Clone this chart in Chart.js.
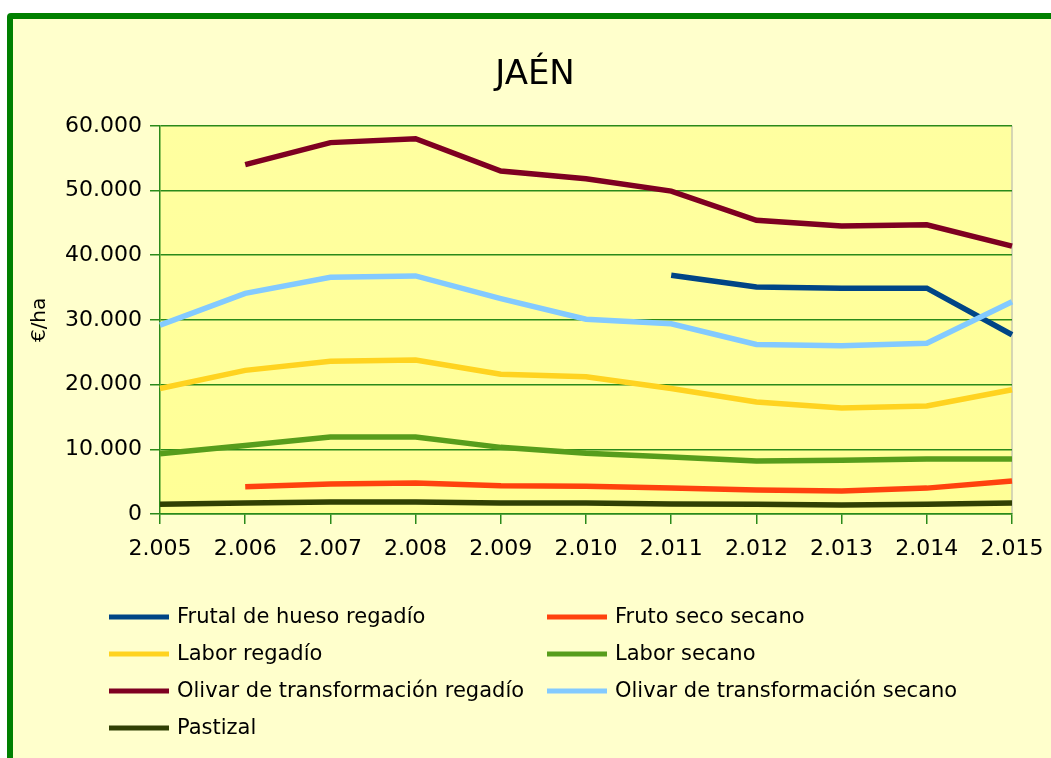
<!DOCTYPE html>
<html>
<head>
<meta charset="utf-8">
<script src="https://cdn.jsdelivr.net/npm/chart.js@4.4.0/dist/chart.umd.min.js"></script>
<style>
  html, body { margin: 0; padding: 0; background: #fff; overflow: hidden; }
  #frame { position: absolute; left: 7px; top: 13px; width: 1100px; height: 800px; border: 6px solid #008000; border-radius: 4px; background: #ffffcc; }
  #chart { position: absolute; left: 0; top: 0; }
</style>
</head>
<body>
<div id="frame"></div>
<canvas id="chart" width="1051" height="758"></canvas>
<script>
const years = ["2.005", "2.006", "2.007", "2.008", "2.009", "2.010", "2.011", "2.012", "2.013", "2.014", "2.015"];

const frutalHuesoRegadio = [null, null, null, null, null, null, 36900, 35100, 34900, 34900, 27700];
const frutoSecoSecano = [null, 4200, 4650, 4800, 4350, 4300, 4000, 3700, 3550, 4000, 5100];
const laborRegadio = [19400, 22200, 23600, 23800, 21600, 21200, 19400, 17300, 16400, 16700, 19200];
const laborSecano = [9300, 10600, 11900, 11900, 10300, 9400, 8800, 8200, 8300, 8500, 8500];
const olivarRegadio = [null, 54000, 57400, 58000, 53000, 51800, 49900, 45400, 44500, 44700, 41400];
const olivarSecano = [29200, 34100, 36600, 36800, 33300, 30100, 29400, 26200, 26000, 26400, 32800];
const pastizal = [1500, 1700, 1850, 1850, 1700, 1700, 1550, 1500, 1400, 1500, 1700];

const seriesNames = [
    "Frutal de hueso regadío",
    "Fruto seco secano",
    "Labor regadío",
    "Labor secano",
    "Olivar de transformación regadío",
    "Olivar de transformación secano",
    "Pastizal"
];
const seriesValues = [frutalHuesoRegadio, frutoSecoSecano, laborRegadio, laborSecano, olivarRegadio, olivarSecano, pastizal];
const seriesColors = ["#004586", "#ff420e", "#ffd320", "#579d1c", "#7e0021", "#83caff", "#314004"];

const green = "#2a8a1a";
const font = "'DejaVu Sans', Verdana, sans-serif";

const formatThousands = (v) => String(v).replace(/\B(?=(\d{3})+(?!\d))/g, ".");

// plot wall + grey right edge
const wallPlugin = {
    id: "wall",
    beforeDraw(chart) {
        const { ctx, chartArea: a } = chart;
        const g = ctx.createLinearGradient(a.left, a.top, a.left, a.bottom);
        g.addColorStop(0, "#ffffa0");
        g.addColorStop(1, "#ffff96");
        ctx.save();
        ctx.fillStyle = g;
        ctx.fillRect(a.left, a.top, a.right - a.left, a.bottom - a.top);
        ctx.strokeStyle = "#c8c8b0";
        ctx.lineWidth = 1.5;
        ctx.beginPath();
        ctx.moveTo(a.right, a.top);
        ctx.lineTo(a.right, a.bottom);
        ctx.stroke();
        ctx.restore();
    }
};

// two-column legend under the plot
const legendPlugin = {
    id: "gridLegend",
    afterDraw(chart) {
        const ctx = chart.ctx;
        const cols = [109, 547];
        ctx.save();
        ctx.font = "21px " + font;
        ctx.textBaseline = "middle";
        ctx.fillStyle = "#000";
        chart.data.datasets.forEach((ds, i) => {
            const x = cols[i % 2];
            const y = 617 + Math.floor(i / 2) * 37;
            ctx.strokeStyle = ds.borderColor;
            ctx.lineWidth = 5;
            ctx.beginPath();
            ctx.moveTo(x, y);
            ctx.lineTo(x + 60, y);
            ctx.stroke();
            ctx.fillText(ds.label, x + 68, y + 1);
        });
        ctx.restore();
    }
};

new Chart(document.getElementById("chart"), {
    type: "line",
    data: {
        labels: years,
        datasets: seriesNames.map((name, i) => ({
            label: name,
            data: seriesValues[i],
            borderColor: seriesColors[i],
            backgroundColor: seriesColors[i],
            borderWidth: 5.5,
            pointRadius: 0,
            tension: 0,
            fill: false,
            order: -i
        }))
    },
    options: {
        responsive: false,
        animation: false,
        layout: { padding: { left: 58, right: 39, top: 0, bottom: 184 } },
        plugins: {
            legend: { display: false },
            tooltip: { enabled: false },
            title: {
                display: true,
                text: "JAÉN",
                color: "#000",
                font: { family: font, size: 34, weight: "normal" },
                padding: { top: 55, bottom: 30 }
            }
        },
        scales: {
            x: {
                grid: { drawOnChartArea: false, drawTicks: true, tickLength: 10, color: green, lineWidth: 1.5 },
                border: { color: green, width: 1.5 },
                ticks: { color: "#000", font: { family: font, size: 22 }, padding: 12, maxRotation: 0, autoSkip: false },
                afterFit(scale) {
                    scale.height = 60;
                    scale.paddingLeft = 0;
                    scale.paddingRight = 0;
                }
            },
            y: {
                min: 0,
                max: 60000,
                ticks: { stepSize: 10000, color: "#000", font: { family: font, size: 22 }, padding: 8, callback: formatThousands },
                grid: { color: green, lineWidth: 1.5, tickLength: 10 },
                border: { color: green, width: 1.5 },
                title: { display: true, text: "€/ha", color: "#000", font: { family: font, size: 20 }, padding: { top: -30, bottom: 0 } },
                afterFit(scale) {
                    scale.width = 102;
                }
            }
        }
    },
    plugins: [wallPlugin, legendPlugin]
});
</script>
</body>
</html>
